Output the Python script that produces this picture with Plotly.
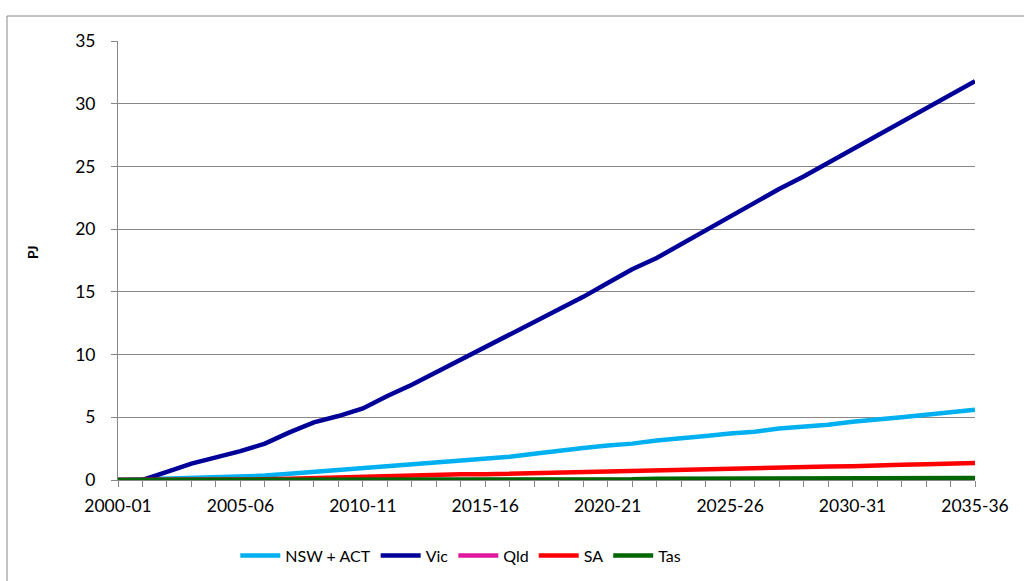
import plotly.graph_objects as go

years = [f"{y}-{str(y + 1)[-2:]}" for y in range(2000, 2036)]

nsw = [0, 0.05, 0.1, 0.15, 0.2, 0.25, 0.35, 0.5, 0.65, 0.8, 0.95, 1.05, 1.2, 1.35, 1.5, 1.7, 1.85, 2.1,
       2.35, 2.55, 2.75, 2.9, 3.15, 3.3, 3.5, 3.7, 3.85, 4.1, 4.25, 4.4, 4.65, 4.8, 5.0, 5.2, 5.4, 5.6]
vic = [0, 0, 0.65, 1.3, 1.8, 2.3, 2.9, 3.8, 4.6, 5.1, 5.7, 6.7, 7.6, 8.6, 9.6, 10.5, 11.5, 12.5,
       13.5, 14.6, 15.7, 16.8, 17.7, 18.8, 20.0, 21.1, 22.2, 23.2, 24.2, 25.3, 26.4, 27.5, 28.6, 29.7, 30.8, 31.8]
qld = [0] * 36
sa = [0, 0, 0, 0, 0, 0, 0.05, 0.1, 0.15, 0.2, 0.3, 0.35, 0.4, 0.4, 0.45, 0.45, 0.5, 0.5,
      0.55, 0.6, 0.7, 0.72, 0.75, 0.8, 0.85, 0.92, 0.95, 0.97, 1.05, 1.07, 1.1, 1.2, 1.22, 1.25, 1.32, 1.35]
tas = [0] * 21 + [0.05, 0.1, 0.1, 0.1, 0.1, 0.1, 0.1, 0.1, 0.1, 0.1, 0.1, 0.1, 0.15, 0.15, 0.15]

series = [
    ("NSW + ACT", nsw, "#00B0F0"),
    ("Vic", vic, "#000099"),
    ("Qld", qld, "#E0189E"),
    ("SA", sa, "#FF0000"),
    ("Tas", tas, "#006600"),
]

font_family = "Lato, 'Open Sans', sans-serif"

fig = go.Figure()
for name, vals, col in series:
    fig.add_trace(go.Scatter(x=years, y=vals, name=name, mode="lines",
                             line=dict(color=col, width=4.5)))

ticktext = [y if i % 5 == 0 else "" for i, y in enumerate(years)]

L, R, T, B = 118, 49, 41, 101
pw, ph = 1024 - L - R, 581 - T - B

fig.update_layout(
    width=1024, height=581,
    margin=dict(l=L, r=R, t=T, b=B, autoexpand=False),
    paper_bgcolor="white", plot_bgcolor="white",
    font=dict(family=font_family, size=16, color="black"),
    showlegend=True,
    legend=dict(orientation="h", x=0.40, xanchor="center", y=-0.172, yanchor="middle",
                font=dict(size=16), itemwidth=40, tracegroupgap=0),
    xaxis=dict(type="category", range=[0, 35], tickmode="array", tickvals=years, ticktext=ticktext,
               ticks="outside", ticklen=6, tickcolor="#888888", showline=True, linecolor="#888888",
               linewidth=1, showgrid=False, tickfont=dict(size=17.5), tickangle=0, zeroline=False,
               ticklabelstandoff=4, automargin=False),
    yaxis=dict(range=[0, 35], dtick=5, ticks="outside", ticklen=6, tickcolor="#888888",
               showline=True, linecolor="#888888", linewidth=1, showgrid=True, gridcolor="#888888",
               gridwidth=1, zeroline=False, tickfont=dict(size=17.5), ticklabelstandoff=12,
               automargin=False),
    annotations=[dict(text="<b>PJ</b>", xref="paper", yref="paper", x=(33 - L) / pw,
                      y=(480 - 252) / ph, textangle=-90, showarrow=False,
                      font=dict(size=14), xanchor="center", yanchor="middle")],
    shapes=[dict(type="rect", xref="paper", yref="paper", x0=(7 - L) / pw, x1=1.2,
                 y0=-0.5, y1=(480 - 16) / ph, line=dict(color="#888888", width=1),
                 fillcolor="rgba(0,0,0,0)", layer="below")],
)

fig.write_html("out.html", config={"displayModeBar": False},
               post_script="document.body.style.margin='0';document.body.style.padding='0';")
